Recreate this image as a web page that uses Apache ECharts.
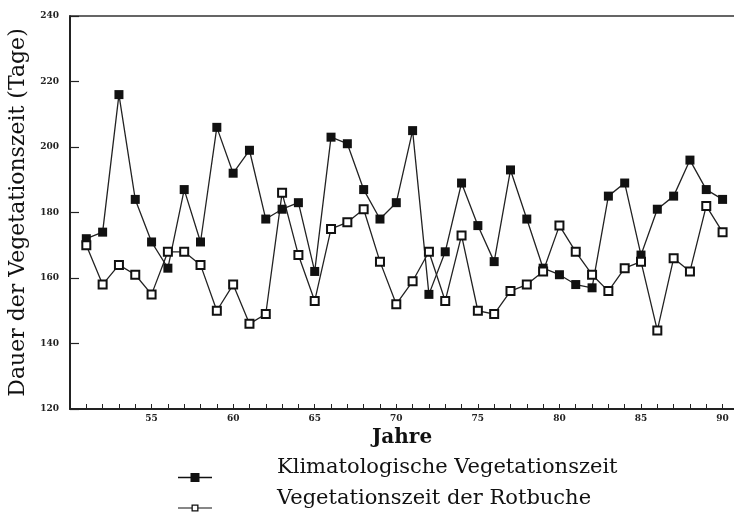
<!DOCTYPE html>
<html><head><meta charset="utf-8">
<script src="https://cdn.jsdelivr.net/npm/echarts@6/dist/echarts.min.js"></script>
<style>html,body{margin:0;padding:0;background:#fff}#c{width:734px;height:514px}</style>
</head><body><div id="c"></div>
<script>
const years = [51,52,53,54,55,56,57,58,59,60,61,62,63,64,65,66,67,68,69,70,71,72,73,74,75,76,77,78,79,80,81,82,83,84,85,86,87,88,89,90];
const klima = [172,174,216,184,171,163,187,171,206,192,199,178,181,183,162,203,201,187,178,183,205,155,168,189,176,165,193,178,163,161,158,157,185,189,167,181,185,196,187,184];
const rotbuche = [170,158,164,161,155,168,168,164,150,158,146,149,186,167,153,175,177,181,165,152,159,168,153,173,150,149,156,158,162,176,168,161,156,163,165,144,166,162,182,174];
const seriesNames = ['Klimatologische Vegetationszeit','Vegetationszeit der Rotbuche'];
const yTitle = 'Dauer der Vegetationszeit (Tage)';
const xTitle = 'Jahre';

const serif = "'DejaVu Serif','Liberation Serif',serif";
const iconFilled = 'path://M0,0L0.5,0L0,0Z M0,23.8L34,23.8L34,25.2L0,25.2Z M12.5,20L21.5,20L21.5,29L12.5,29Z';
const iconOpen = 'path://M0,0L0.5,0L0,0Z M0,29L0.5,29L0,29Z M0,23.5L13.5,23.5L13.5,24.5L0,24.5Z M20.5,23.5L34,23.5L34,24.5L20.5,24.5Z M13.5,20.5L20.5,20.5L20.5,27.5L13.5,27.5Z M14.8,21.8L14.8,26.2L19.2,26.2L19.2,21.8Z';
const chart = echarts.init(document.getElementById('c'));
const legendBase = {
  orient:'vertical', left:173,
  itemWidth:34, itemHeight:29,
  itemStyle:{borderWidth:0},
  textStyle:{fontFamily:serif,fontSize:21,color:'#111',padding:[0,0,0,60]}
};
chart.setOption({
  animation:false,
  backgroundColor:'#fff',
  grid:{left:70,top:16,right:0,bottom:105,containLabel:false,outerBoundsMode:'none'},
  legend:[
    Object.assign({}, legendBase, {top:448,
      data:[{name:seriesNames[0],icon:iconFilled,itemStyle:{color:'#111',borderWidth:0}}]}),
    Object.assign({}, legendBase, {top:479,
      data:[{name:seriesNames[1],icon:iconOpen,itemStyle:{color:'#111',borderWidth:0}}]})
  ],
  xAxis:[{
    type:'value', min:50, max:90.7, interval:1,
    name:xTitle, nameLocation:'middle', nameGap:17,
    nameTextStyle:{fontFamily:serif,fontSize:20,fontWeight:'bold',color:'#111'},
    axisLine:{lineStyle:{color:'#222',width:2}},
    axisTick:{inside:true,length:5,lineStyle:{color:'#222',width:1}},
    axisLabel:{fontFamily:serif,fontSize:9,fontWeight:'bold',color:'#222',margin:5,
      formatter:v=> (v%5===0 && v>=55) ? String(v) : ''},
    splitLine:{show:false}
  },{
    type:'value', position:'top', min:50, max:90.7,
    axisLine:{show:true,lineStyle:{color:'#333',width:1.5}},
    axisTick:{show:false}, axisLabel:{show:false}, splitLine:{show:false}
  }],
  yAxis:{
    type:'value', min:120, max:240, interval:20,
    name:yTitle, nameLocation:'middle', nameGap:35, nameRotate:90,
    nameTextStyle:{fontFamily:serif,fontSize:22,color:'#111'},
    axisLine:{show:true,lineStyle:{color:'#222',width:2}},
    axisTick:{inside:true,length:9,lineStyle:{color:'#222',width:1.2}},
    axisLabel:{fontFamily:serif,fontSize:9,fontWeight:'bold',color:'#222',margin:11},
    splitLine:{show:false}
  },
  series:[{
    name:seriesNames[0], type:'line',
    data:years.map((y,i)=>[y,klima[i]]),
    symbol:'rect', symbolSize:9,
    itemStyle:{color:'#111'},
    lineStyle:{color:'#222',width:1.3}
  },{
    name:seriesNames[1], type:'line',
    data:years.map((y,i)=>[y,rotbuche[i]]),
    symbol:'emptyRect', symbolSize:8,
    itemStyle:{color:'#111',borderWidth:1.5},
    lineStyle:{color:'#222',width:1.3}
  }]
});
</script></body></html>
